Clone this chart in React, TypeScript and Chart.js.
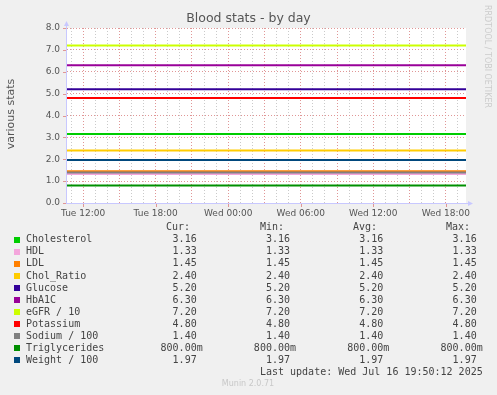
import React, { useEffect, useRef } from 'react';
import { Chart, registerables } from 'chart.js';

Chart.register(...registerables);

// ---- data ----
const seriesNames = ['Cholesterol', 'HDL', 'LDL', 'Chol_Ratio', 'Glucose', 'HbA1C', 'eGFR / 10', 'Potassium', 'Sodium / 100', 'Triglycerides', 'Weight / 100'];
const seriesColors = ['#00CC00', '#F4A6DC', '#FF8000', '#FFCC00', '#330099', '#990099', '#CCFF00', '#FF0000', '#808080', '#008F00', '#00487D'];
const curValues = [3.16, 1.33, 1.45, 2.40, 5.20, 6.30, 7.20, 4.80, 1.40, 0.80, 1.97];
const minValues = [3.16, 1.33, 1.45, 2.40, 5.20, 6.30, 7.20, 4.80, 1.40, 0.80, 1.97];
const avgValues = [3.16, 1.33, 1.45, 2.40, 5.20, 6.30, 7.20, 4.80, 1.40, 0.80, 1.97];
const maxValues = [3.16, 1.33, 1.45, 2.40, 5.20, 6.30, 7.20, 4.80, 1.40, 0.80, 1.97];

// time axis in hours since Tue 00:00
const startHour = 10 + 40 / 60;
const endHour = 43 + 40 / 60;
const tickHours = [12, 18, 24, 30, 36, 42];
const tickLabels = ['Tue 12:00', 'Tue 18:00', 'Wed 00:00', 'Wed 06:00', 'Wed 12:00', 'Wed 18:00'];
const yMin = 0;
const yMax = 8;

const titleText = 'Blood stats - by day';
const yTitleText = 'various stats';
const columnHeaders = ['Cur:', 'Min:', 'Avg:', 'Max:'];
const lastUpdateText = 'Last update: Wed Jul 16 19:50:12 2025';
const versionText = 'Munin 2.0.71';
const watermarkText = 'RRDTOOL / TOBI OETIKER';

const SANS = "'DejaVu Sans', sans-serif";
const MONO = "'DejaVu Sans Mono', monospace";
const MAJOR = '#E09696';
const MINOR = '#CACACA';
const AXIS = '#C8C8FF';

function fmt(v: number): string {
  if (Math.abs(v) < 1 && v !== 0) return (v * 1000).toFixed(2) + 'm';
  return v.toFixed(2) + ' ';
}

const decorPlugin = {
  id: 'muninDecor',
  beforeDraw(chart: any) {
    const { ctx, chartArea } = chart;
    ctx.save();
    ctx.fillStyle = '#F0F0F0';
    ctx.fillRect(0, 0, chart.width, chart.height);
    ctx.fillStyle = '#FFFFFF';
    ctx.fillRect(chartArea.left, chartArea.top, chartArea.right - chartArea.left, chartArea.bottom - chartArea.top);
    ctx.restore();
  },
  afterDraw(chart: any) {
    const { ctx, chartArea } = chart;
    const L = chartArea.left;
    const R = chartArea.right;
    const T = chartArea.top;
    const B = chartArea.bottom;
    const xs = chart.scales.x;
    const ys = chart.scales.y;
    ctx.save();
    // small red tick marks outside the axes
    ctx.strokeStyle = MAJOR;
    ctx.lineWidth = 1;
    ctx.beginPath();
    tickHours.forEach((h) => {
      const px = Math.round(xs.getPixelForValue(h)) + 0.5;
      ctx.moveTo(px, B + 1);
      ctx.lineTo(px, B + 4);
    });
    for (let v = yMin; v <= yMax; v++) {
      const py = Math.round(ys.getPixelForValue(v)) + 0.5;
      ctx.moveTo(L - 4, py);
      ctx.lineTo(L - 1, py);
    }
    ctx.stroke();
    // axes
    ctx.strokeStyle = AXIS;
    ctx.fillStyle = AXIS;
    ctx.beginPath();
    ctx.moveTo(L - 0.5, B + 0.5);
    ctx.lineTo(L - 0.5, T - 4);
    ctx.moveTo(L - 1, B + 0.5);
    ctx.lineTo(R + 4, B + 0.5);
    ctx.stroke();
    ctx.beginPath();
    ctx.moveTo(L - 3, T - 2);
    ctx.lineTo(L + 2, T - 2);
    ctx.lineTo(L - 0.5, T - 7);
    ctx.closePath();
    ctx.fill();
    ctx.beginPath();
    ctx.moveTo(R + 2, B - 2);
    ctx.lineTo(R + 2, B + 3);
    ctx.lineTo(R + 7, B + 0.5);
    ctx.closePath();
    ctx.fill();

    // title
    ctx.fillStyle = '#555555';
    ctx.font = `12.5px ${SANS}`;
    ctx.textAlign = 'center';
    ctx.textBaseline = 'middle';
    ctx.fillText(titleText, 248.5, 19);

    // y title
    ctx.save();
    ctx.translate(11, 114);
    ctx.rotate(-Math.PI / 2);
    ctx.font = `11px ${SANS}`;
    ctx.fillStyle = '#555555';
    ctx.fillText(yTitleText, 0, 0);
    ctx.restore();

    // watermark
    ctx.save();
    ctx.translate(487, 5);
    ctx.rotate(Math.PI / 2);
    ctx.font = `8px ${SANS}`;
    ctx.fillStyle = '#CCCCCC';
    ctx.textAlign = 'left';
    ctx.fillText(watermarkText, 0, 0);
    ctx.restore();

    // legend table
    const colRight = [202.7, 296, 389.3, 482.7];
    const headRight = [190, 284, 377, 470];
    ctx.font = `10px ${MONO}`;
    ctx.fillStyle = '#444444';
    ctx.textBaseline = 'middle';
    ctx.textAlign = 'right';
    columnHeaders.forEach((h, i) => ctx.fillText(h, headRight[i], 227.5));
    const rowH = 12.05;
    seriesNames.forEach((name, i) => {
      const y = 239.8 + i * rowH;
      ctx.fillStyle = seriesColors[i];
      ctx.fillRect(14, Math.round(y - 3), 6, 6);
      ctx.fillStyle = '#444444';
      ctx.textAlign = 'left';
      ctx.fillText(name, 26, y);
      ctx.textAlign = 'right';
      const vals = [curValues[i], minValues[i], avgValues[i], maxValues[i]];
      vals.forEach((v, j) => ctx.fillText(fmt(v), colRight[j], y));
    });
    ctx.textAlign = 'right';
    ctx.fillText(lastUpdateText, 482.7, 239.8 + seriesNames.length * rowH);

    ctx.font = `8px ${SANS}`;
    ctx.fillStyle = '#C8C8C8';
    ctx.textAlign = 'center';
    ctx.fillText(versionText, 248, 384);
    ctx.restore();
  },
};

export default function App() {
  const ref = useRef<HTMLCanvasElement | null>(null);
  useEffect(() => {
    if (!ref.current) return;
    const datasets = seriesNames.map((name, i) => ({
      label: name,
      data: [
        { x: startHour, y: curValues[i] },
        { x: endHour, y: curValues[i] },
      ],
      borderColor: seriesColors[i],
      backgroundColor: seriesColors[i],
      borderWidth: 2,
      pointRadius: 0,
      fill: false,
      tension: 0,
      order: -i,
    }));
    const chart = new Chart(ref.current, {
      type: 'line',
      data: { datasets },
      plugins: [decorPlugin],
      options: {
        animation: false,
        responsive: false,
        devicePixelRatio: 1,
        layout: { padding: { top: 28, right: 31, left: 0, bottom: 0 } },
        plugins: { legend: { display: false }, tooltip: { enabled: false }, title: { display: false } },
        scales: {
          x: {
            type: 'linear',
            min: startHour,
            max: endHour,
            afterBuildTicks: (scale: any) => {
              const t: any[] = [];
              for (let h = Math.ceil(startHour); h <= Math.floor(endHour); h++) t.push({ value: h });
              scale.ticks = t;
            },
            afterFit: (scale: any) => {
              scale.height = 192;
            },
            ticks: {
              autoSkip: false,
              maxRotation: 0,
              minRotation: 0,
              padding: 5,
              color: '#555555',
              font: { family: SANS, size: 9 },
              callback: (v: any) => {
                const idx = tickHours.indexOf(Number(v));
                return idx >= 0 ? tickLabels[idx] : '';
              },
            },
            grid: {
              drawTicks: false,
              color: (c: any) => (c.tick && Math.round(c.tick.value) % 3 === 0 ? MAJOR : MINOR),
            },
            border: { display: false, dash: [1, 2] },
          },
          y: {
            type: 'linear',
            min: yMin,
            max: yMax,
            afterFit: (scale: any) => {
              scale.width = 67;
            },
            ticks: {
              stepSize: 0.5,
              padding: 7,
              color: '#555555',
              font: { family: SANS, size: 9 },
              callback: (v: any) => (Number.isInteger(Number(v)) ? Number(v).toFixed(1) : ''),
            },
            grid: {
              drawTicks: false,
              color: (c: any) => (c.tick && Number.isInteger(c.tick.value) ? MAJOR : MINOR),
            },
            border: { display: false, dash: [1, 2] },
          },
        },
      },
    } as any);
    return () => chart.destroy();
  }, []);
  return (
    <div style={{ position: 'fixed', left: 0, top: 0, width: 497, height: 395, background: '#F0F0F0' }}>
      <canvas ref={ref} width={497} height={395} style={{ display: 'block', width: 497, height: 395 }} />
    </div>
  );
}
